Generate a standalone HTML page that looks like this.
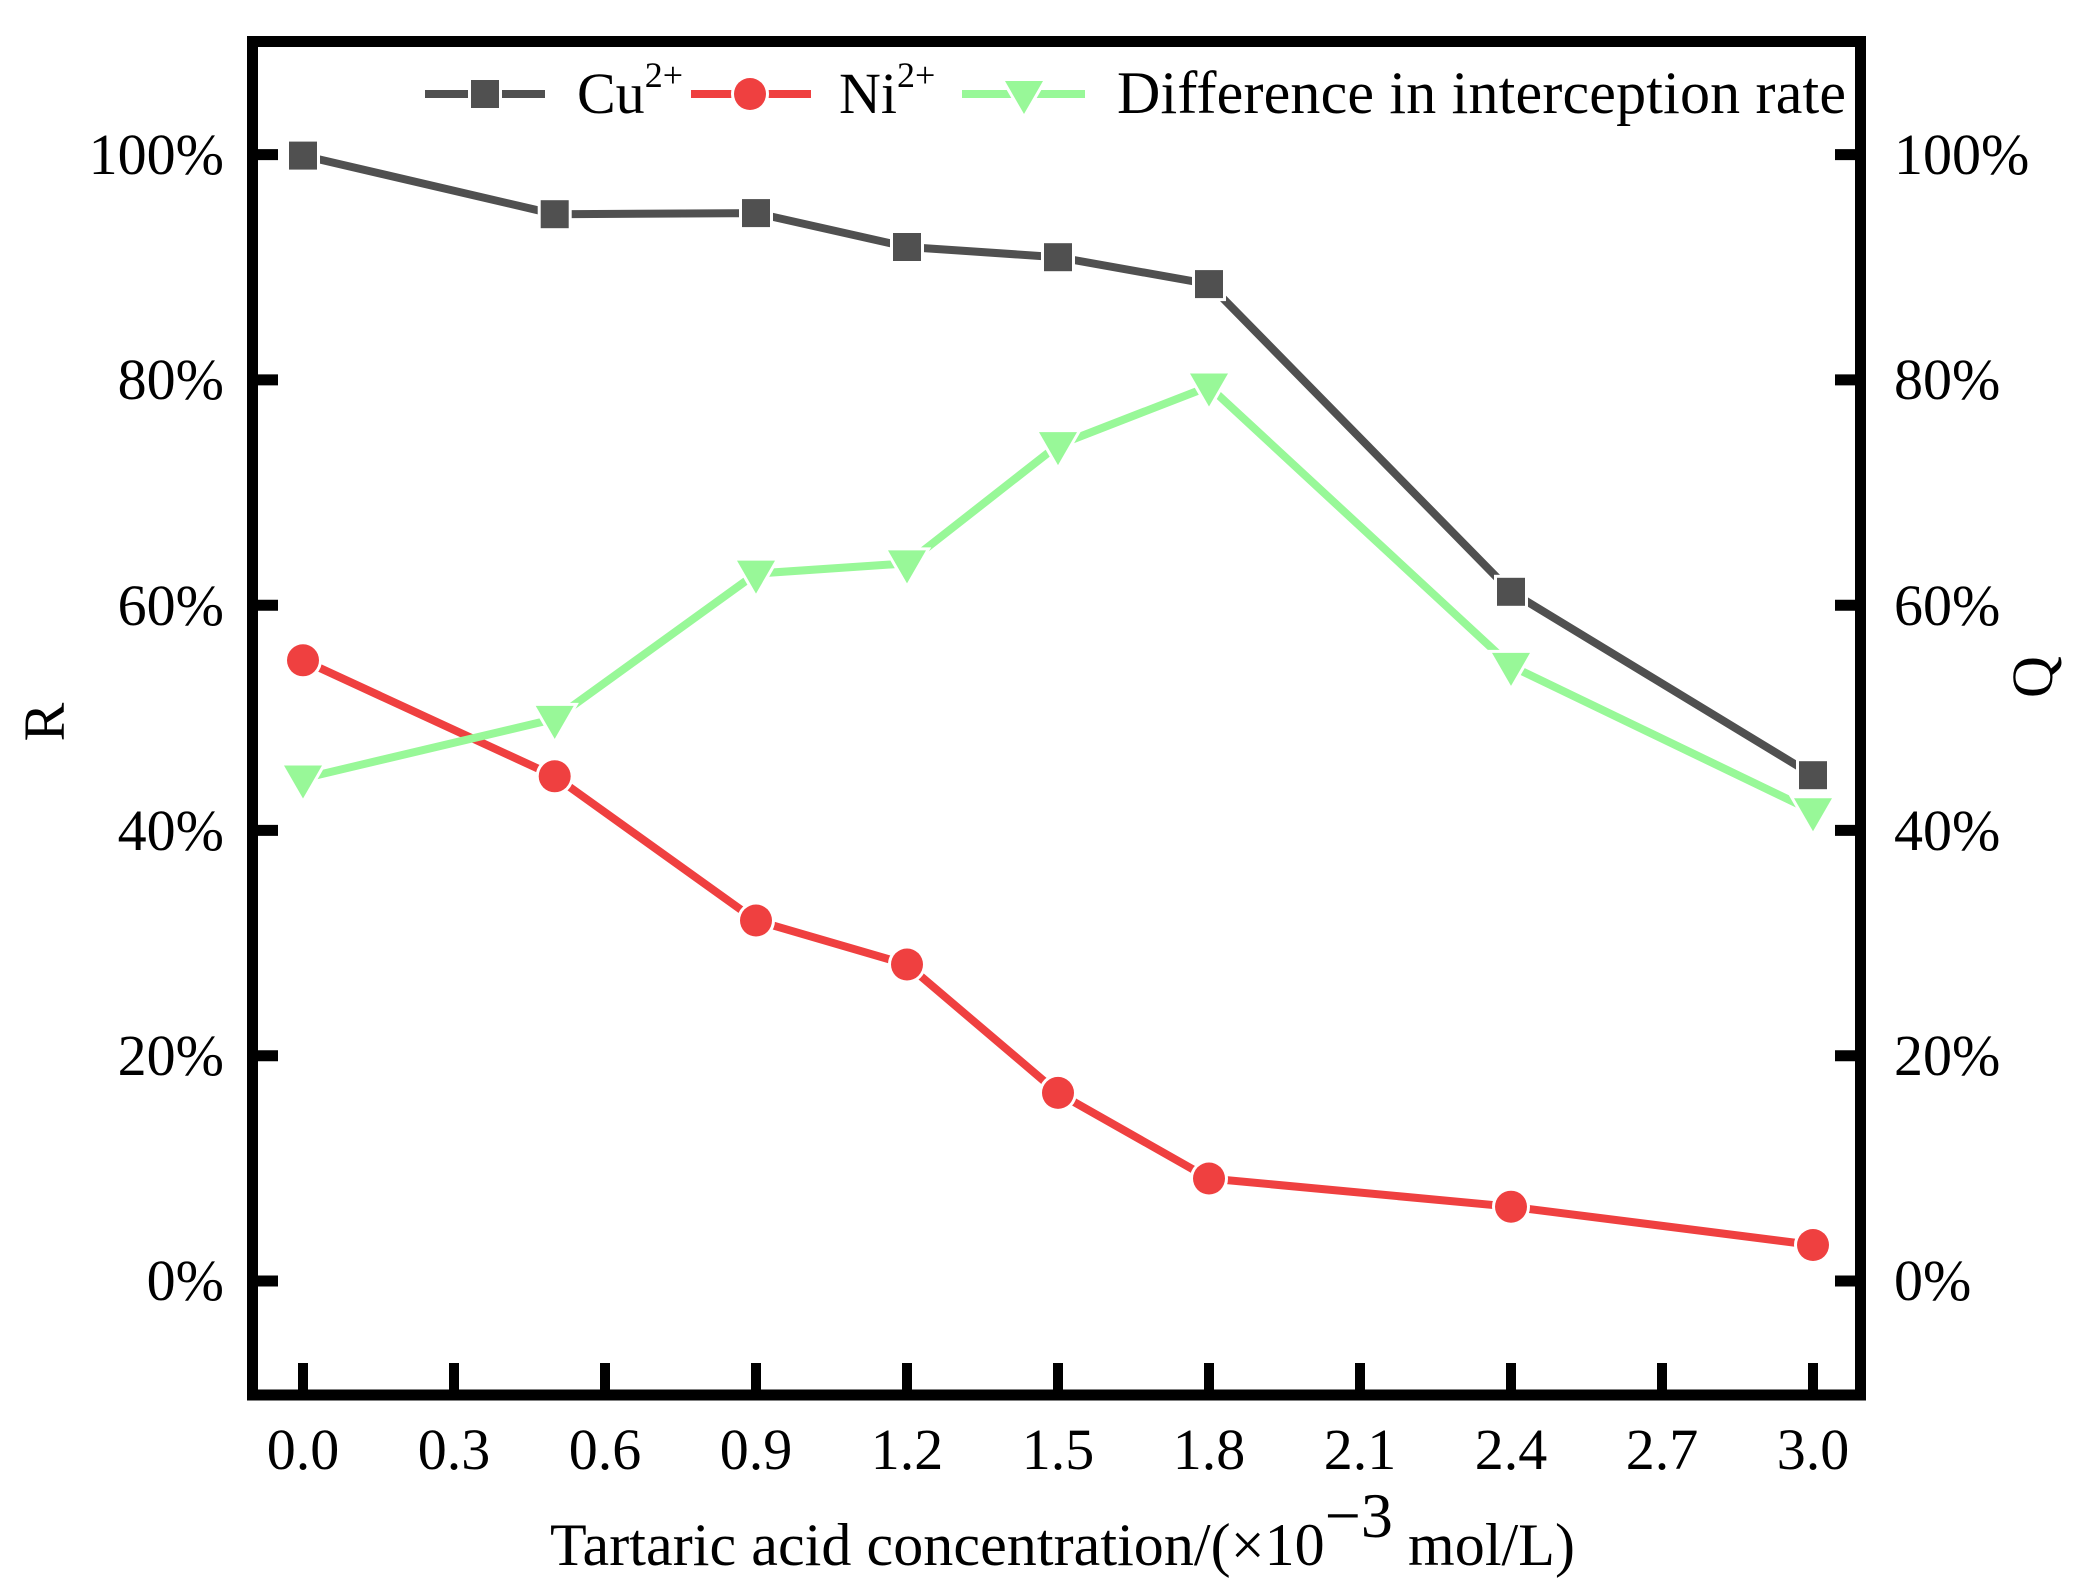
<!DOCTYPE html>
<html><head><meta charset="utf-8"><style>
html,body{margin:0;padding:0;background:#fff;}
svg{display:block;}
text{font-family:"Liberation Serif",serif;fill:#000;}
</style></head><body>
<svg width="2085" height="1595" viewBox="0 0 2085 1595" xmlns="http://www.w3.org/2000/svg">
<defs>
<rect id="sq" x="-14" y="-14" width="28" height="28"/>
<circle id="ci" r="16"/>
<path id="tr" d="M-19,-13h38l-19,33z"/>
</defs>
<g font-size="58">
<rect x="252.5" y="41.5" width="1608" height="1353.5" fill="none" stroke="#000" stroke-width="11"/>
<g stroke="#000" stroke-width="11">
<line x1="258" y1="154.6" x2="278" y2="154.6"/>
<line x1="258" y1="379.9" x2="278" y2="379.9"/>
<line x1="258" y1="605.2" x2="278" y2="605.2"/>
<line x1="258" y1="830.4" x2="278" y2="830.4"/>
<line x1="258" y1="1055.7" x2="278" y2="1055.7"/>
<line x1="258" y1="1281" x2="278" y2="1281"/>
<line x1="1855" y1="154.6" x2="1835" y2="154.6"/>
<line x1="1855" y1="379.9" x2="1835" y2="379.9"/>
<line x1="1855" y1="605.2" x2="1835" y2="605.2"/>
<line x1="1855" y1="830.4" x2="1835" y2="830.4"/>
<line x1="1855" y1="1055.7" x2="1835" y2="1055.7"/>
<line x1="1855" y1="1281" x2="1835" y2="1281"/>
</g>
<g stroke="#000" stroke-width="10">
<line x1="303" y1="1390" x2="303" y2="1363"/>
<line x1="454" y1="1390" x2="454" y2="1363"/>
<line x1="605" y1="1390" x2="605" y2="1363"/>
<line x1="756" y1="1390" x2="756" y2="1363"/>
<line x1="907" y1="1390" x2="907" y2="1363"/>
<line x1="1058" y1="1390" x2="1058" y2="1363"/>
<line x1="1209" y1="1390" x2="1209" y2="1363"/>
<line x1="1360" y1="1390" x2="1360" y2="1363"/>
<line x1="1511" y1="1390" x2="1511" y2="1363"/>
<line x1="1662" y1="1390" x2="1662" y2="1363"/>
<line x1="1813" y1="1390" x2="1813" y2="1363"/>
</g>
<g text-anchor="end">
<text x="224" y="174">100%</text>
<text x="224" y="399">80%</text>
<text x="224" y="625">60%</text>
<text x="224" y="850">40%</text>
<text x="224" y="1075">20%</text>
<text x="224" y="1300">0%</text>
</g>
<g text-anchor="start">
<text x="1894" y="174">100%</text>
<text x="1894" y="399">80%</text>
<text x="1894" y="625">60%</text>
<text x="1894" y="850">40%</text>
<text x="1894" y="1075">20%</text>
<text x="1894" y="1300">0%</text>
</g>
<g text-anchor="middle">
<text x="303" y="1469">0.0</text>
<text x="454" y="1469">0.3</text>
<text x="605" y="1469">0.6</text>
<text x="756" y="1469">0.9</text>
<text x="907" y="1469">1.2</text>
<text x="1058" y="1469">1.5</text>
<text x="1209" y="1469">1.8</text>
<text x="1360" y="1469">2.1</text>
<text x="1511" y="1469">2.4</text>
<text x="1662" y="1469">2.7</text>
<text x="1813" y="1469">3.0</text>
</g>
<text x="550" y="1565" font-size="60" textLength="1025">Tartaric acid concentration/(×10<tspan font-size="64" dy="-28">−3</tspan><tspan dy="28"> mol/L)</tspan></text>
<text transform="translate(64,722) rotate(-90)" text-anchor="middle">R</text>
<text transform="translate(2052,677) rotate(-90)" text-anchor="middle">Q</text>

<!-- Cu -->
<polyline fill="none" stroke="#505050" stroke-width="8" points="303,155.6 554.7,214.2 756,213.1 907,247 1058,257.2 1209,284.1 1511,591.8 1813,775.2"/>
<!-- Ni -->
<polyline fill="none" stroke="#EF4040" stroke-width="8" points="303,660.3 554.7,776.3 756,920.5 907,964.5 1058,1092.9 1209,1178.5 1511,1206.7 1813,1245"/>
<!-- Diff -->
<polyline fill="none" stroke="#98F898" stroke-width="8" points="303,778.5 554.7,718.9 756,573.6 907,563.4 1058,445.1 1209,386.5 1511,665.9 1813,811.3"/>
<g fill="#505050" stroke="#fff" stroke-width="6" paint-order="stroke">
<use href="#sq" x="303" y="155.6"/><use href="#sq" x="554.7" y="214.2"/><use href="#sq" x="756" y="213.1"/><use href="#sq" x="907" y="247"/><use href="#sq" x="1058" y="257.2"/><use href="#sq" x="1209" y="284.1"/><use href="#sq" x="1511" y="591.8"/><use href="#sq" x="1813" y="775.2"/>
</g>
<g fill="#EF4040" stroke="#fff" stroke-width="6" paint-order="stroke">
<use href="#ci" x="303" y="660.3"/><use href="#ci" x="554.7" y="776.3"/><use href="#ci" x="756" y="920.5"/><use href="#ci" x="907" y="964.5"/><use href="#ci" x="1058" y="1092.9"/><use href="#ci" x="1209" y="1178.5"/><use href="#ci" x="1511" y="1206.7"/><use href="#ci" x="1813" y="1245"/>
</g>
<g fill="#98F898" stroke="#fff" stroke-width="6" paint-order="stroke">
<use href="#tr" x="303" y="778.5"/><use href="#tr" x="554.7" y="718.9"/><use href="#tr" x="756" y="573.6"/><use href="#tr" x="907" y="563.4"/><use href="#tr" x="1058" y="445.1"/><use href="#tr" x="1209" y="386.5"/><use href="#tr" x="1511" y="665.9"/><use href="#tr" x="1813" y="811.3"/>
</g>

<!-- legend -->
<line x1="425" y1="94" x2="545" y2="94" stroke="#505050" stroke-width="8"/>
<use href="#sq" x="485" y="94" fill="#505050" stroke="#fff" stroke-width="6" paint-order="stroke"/>
<text x="577" y="113">Cu<tspan font-size="36" dy="-26">2+</tspan></text>
<line x1="691" y1="94" x2="811" y2="94" stroke="#EF4040" stroke-width="8"/>
<use href="#ci" x="750" y="94" fill="#EF4040" stroke="#fff" stroke-width="6" paint-order="stroke"/>
<text x="839" y="113">Ni<tspan font-size="36" dy="-26">2+</tspan></text>
<line x1="962" y1="94" x2="1085" y2="94" stroke="#98F898" stroke-width="8"/>
<use href="#tr" x="1024" y="94" fill="#98F898" stroke="#fff" stroke-width="6" paint-order="stroke"/>
<text x="1117" y="113" font-size="60" textLength="729">Difference in interception rate</text>
</g>
</svg>
</body></html>
